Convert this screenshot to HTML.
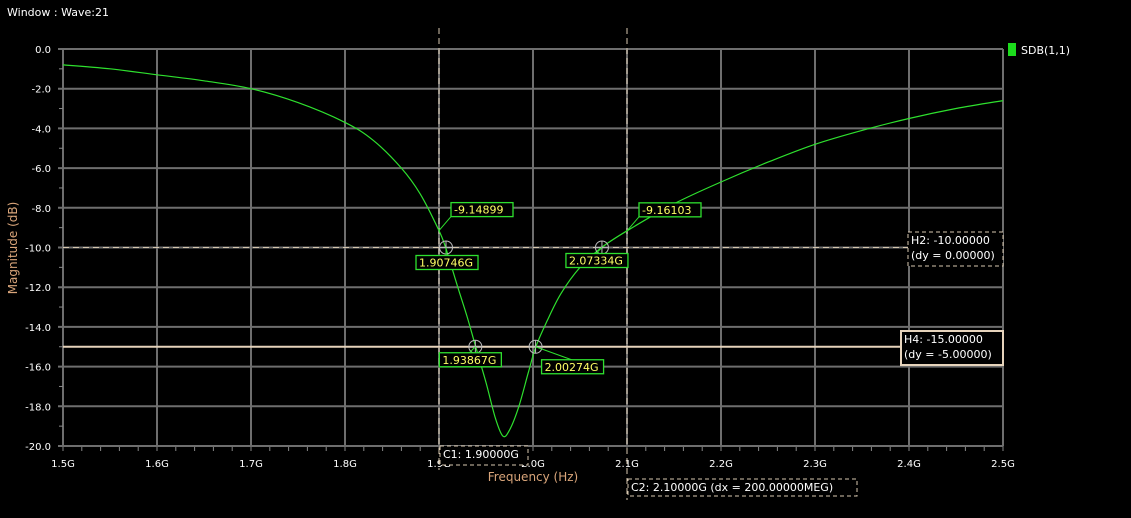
<!DOCTYPE html>
<html><head><meta charset="utf-8"><style>
html,body{margin:0;padding:0;background:#000;width:1131px;height:518px;overflow:hidden}
svg{display:block;font-family:"DejaVu Sans","Liberation Sans",sans-serif}
</style></head><body>
<svg id="chart" width="1131" height="518">
<text x="7" y="16" fill="#fff" font-size="11">Window : Wave:21</text>
<text transform="translate(17,248) rotate(-90)" text-anchor="middle" fill="#d9a57a" font-size="12">Magnitude (dB)</text>
<text x="533" y="481" text-anchor="middle" fill="#d9a57a" font-size="12">Frequency (Hz)</text>
<rect x="1008" y="43" width="8" height="13" fill="#1cdc1c"/>
<text x="1021" y="54" fill="#fff" font-size="11">SDB(1,1)</text>
<g id="grid"></g><g id="cursors"></g><g id="series"></g><g id="marks"></g>
</svg>
<script>
const freqs=[1.5,1.55,1.6,1.65,1.7,1.75,1.8,1.83,1.86,1.88,1.9,1.907,1.92,1.93,1.939,1.95,1.96,1.968,1.975,1.985,1.995,2.003,2.015,2.03,2.05,2.073,2.1,2.15,2.2,2.25,2.3,2.35,2.4,2.45,2.5];
const sdb=[-0.8,-1.0,-1.3,-1.6,-2.0,-2.7,-3.7,-4.6,-6.0,-7.3,-9.15,-10,-12.0,-13.5,-15,-16.8,-18.6,-19.5,-19.2,-18.0,-16.3,-15,-13.7,-12.3,-11.0,-10,-9.16,-7.8,-6.7,-5.7,-4.8,-4.1,-3.5,-3.0,-2.6];
const xTicks=["1.5G","1.6G","1.7G","1.8G","1.9G","2.0G","2.1G","2.2G","2.3G","2.4G","2.5G"];
const yTicks=["0.0","-2.0","-4.0","-6.0","-8.0","-10.0","-12.0","-14.0","-16.0","-18.0","-20.0"];
const markerF=[1.90746,2.07334,1.93867,2.00274];
const markerY=[-10,-10,-15,-15];
const markerLbl=["1.90746G","2.07334G","1.93867G","2.00274G"];
const valF=[1.9,2.1];const valY=[-9.14899,-9.16103];const valLbl=["-9.14899","-9.16103"];
const X0=63,X1=1003,Y0=49,Y1=446;
const xs=f=>X0+(f-1.5)/1.0*(X1-X0);
const ys=v=>Y0+(0-v)/20*(Y1-Y0);
const NS="http://www.w3.org/2000/svg";
function mk(p,t,a){const e=document.createElementNS(NS,t);for(const k in a)e.setAttribute(k,a[k]);p.appendChild(e);return e;}
const g=document.getElementById('grid');
xTicks.forEach((t,i)=>{const x=xs(1.5+i*0.1);
 const l=mk(g,'line',{x1:x,y1:Y0,x2:x,y2:Y1,stroke:'#6e6e6e','stroke-width':2});
 
 
 const tx=mk(g,'text',{x:x,y:467,'text-anchor':'middle',fill:'#fff','font-size':10});tx.textContent=t;
 
 });
for(let i=0;i<=50;i++){const x=xs(1.5+i*0.02);mk(g,'line',{x1:x,y1:Y1,x2:x,y2:Y1+5,stroke:'#888'});}
yTicks.forEach((t,i)=>{const y=ys(-2*i);
 const l=mk(g,'line',{x1:X0-5,y1:y,x2:X1,y2:y,stroke:'#6e6e6e','stroke-width':2});
 
 
 const tx=mk(g,'text',{x:51,y:y+4,'text-anchor':'end',fill:'#fff','font-size':10});tx.textContent=t;
 
 
 if(i<10)mk(g,'line',{x1:X0-4,y1:ys(-2*i-1),x2:X0,y2:ys(-2*i-1),stroke:'#888'});});
const c=document.getElementById('cursors');
const yH2=ys(-10),yH4=ys(-15);
let e=mk(c,'line',{x1:X0,y1:yH2,x2:910,y2:yH2,stroke:'#d8c8b0','stroke-dasharray':'6,4'});

e=mk(c,'line',{x1:X0,y1:yH4,x2:902,y2:yH4,stroke:'#e6d3bb','stroke-width':2});

[[1.9,"c1-cursor"],[2.1,"c2-cursor"]].forEach(([f,n])=>{const x=xs(f);
 const l=mk(c,'line',{x1:x,y1:28,x2:x,y2:n=="c1-cursor"?470:500,stroke:'#d8c8b0','stroke-dasharray':'6,4'});
 });
function box(x,y,w,h,lines,stroke,dash,name){const gg=mk(c,'g',{});
 
 mk(gg,'rect',{x:x,y:y,width:w,height:h,fill:'#000',stroke:stroke,'stroke-width':dash?1:2,'stroke-dasharray':dash?'4,3':'none'});
 lines.forEach((s,i)=>{const t=mk(gg,'text',{x:x+3,y:y+12+i*15,fill:'#fff','font-size':11});t.textContent=s;});}
box(908,232,95,34,["H2: -10.00000","(dy = 0.00000)"],'#d8c8b0',true,'h2-label');
box(901,331,102,34,["H4: -15.00000","(dy = -5.00000)"],'#e6d3bb',false,'h4-label');
box(440,446,88,19,["C1: 1.90000G"],'#d8c8b0',true,'c1-label');
box(628,479,229,17,["C2: 2.10000G (dx = 200.00000MEG)"],'#d8c8b0',true,'c2-label');
const s=document.getElementById('series');
const pts=freqs.map((f,i)=>[xs(f),ys(sdb[i])]);
let d='M'+pts[0][0].toFixed(1)+','+pts[0][1].toFixed(1);
for(let i=0;i<pts.length-1;i++){
 const p0=pts[Math.max(0,i-1)],p1=pts[i],p2=pts[i+1],p3=pts[Math.min(pts.length-1,i+2)];
 const c1x=p1[0]+(p2[0]-p0[0])/6,c1y=p1[1]+(p2[1]-p0[1])/6;
 const c2x=p2[0]-(p3[0]-p1[0])/6,c2y=p2[1]-(p3[1]-p1[1])/6;
 d+=' C'+c1x.toFixed(1)+','+c1y.toFixed(1)+' '+c2x.toFixed(1)+','+c2y.toFixed(1)+' '+p2[0].toFixed(1)+','+p2[1].toFixed(1);}
const p=mk(s,'path',{d:d,fill:'none',stroke:'#2ee02e','stroke-width':1.2});

const m=document.getElementById('marks');
const lblOff=[[-30,8],[-36,6],[-36,6],[6,13]];
markerF.forEach((f,i)=>{const x=xs(f),y=ys(markerY[i]);
 const gg=mk(m,'g',{});
 mk(gg,'circle',{cx:x,cy:y,r:6.5,fill:'none',stroke:'#bbb'});
 mk(gg,'line',{x1:x-6.5,y1:y,x2:x+6.5,y2:y,stroke:'#bbb'});mk(gg,'line',{x1:x,y1:y-6.5,x2:x,y2:y+6.5,stroke:'#bbb'});
 const bx=x+lblOff[i][0],by=y+lblOff[i][1];
 mk(gg,'line',{x1:x,y1:y,x2:bx+30,y2:by,stroke:'#2ee02e'});
 mk(gg,'rect',{x:bx,y:by,width:62,height:14,fill:'#000',stroke:'#2ee02e','stroke-width':1.3});
 const t=mk(gg,'text',{x:bx+3,y:by+11,fill:'#ffff66','font-size':11});t.textContent=markerLbl[i];});
valF.forEach((f,i)=>{const x=xs(f),y=ys(valY[i]);
 const gg=mk(m,'g',{});
 const bx=x+12,by=y-28;
 mk(gg,'line',{x1:x,y1:y,x2:bx,y2:by+14,stroke:'#2ee02e'});
 mk(gg,'rect',{x:bx,y:by,width:62,height:14,fill:'#000',stroke:'#2ee02e','stroke-width':1.3});
 const t=mk(gg,'text',{x:bx+3,y:by+11,fill:'#ffff66','font-size':11});t.textContent=valLbl[i];});
</script>
</body></html>
